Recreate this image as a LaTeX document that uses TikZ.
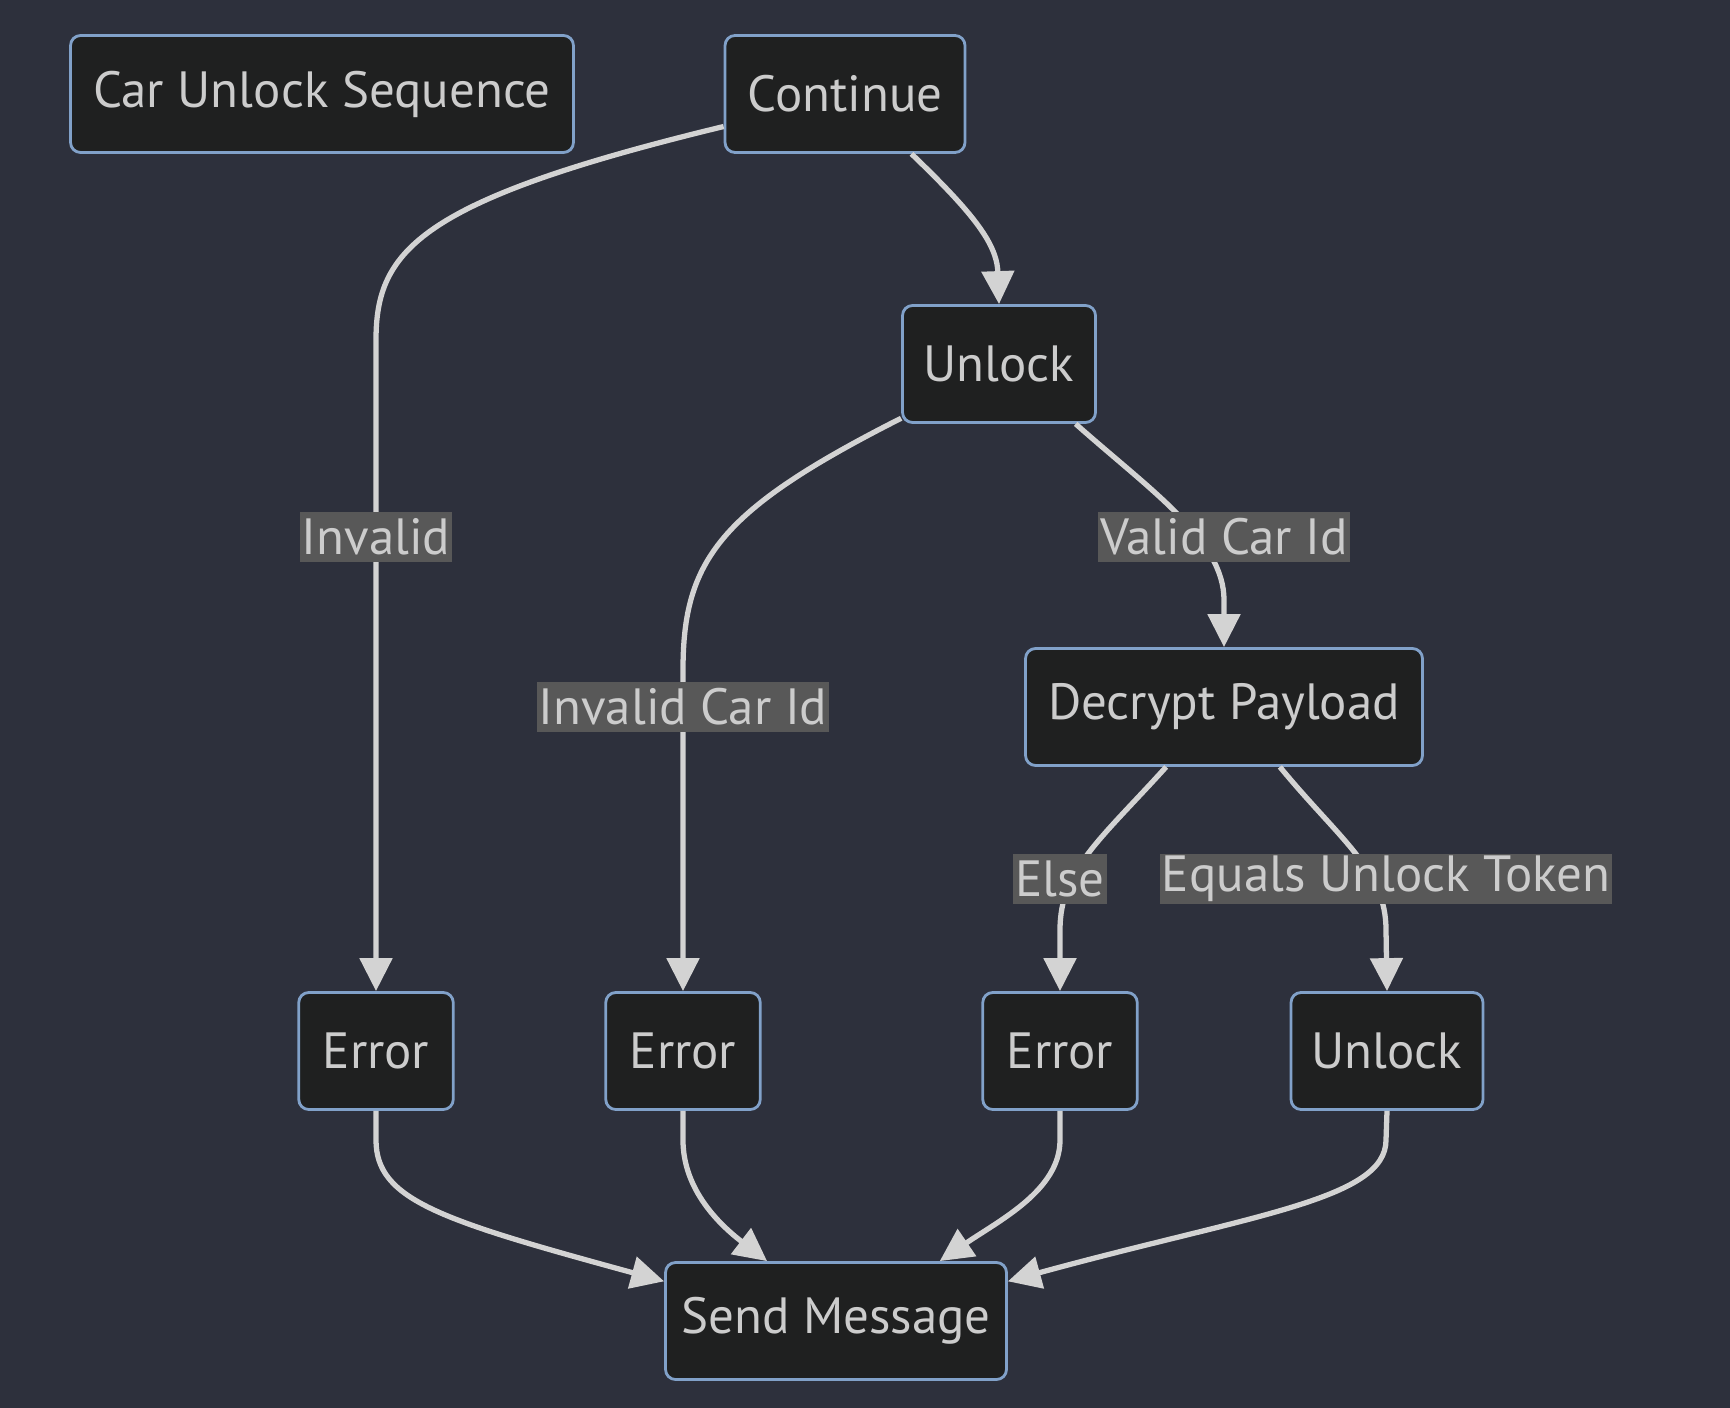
\documentclass[tikz,border=0pt]{standalone}
\usepackage{fontspec}
\setmainfont{PT Sans}
\usepackage{tikz}
\usetikzlibrary{arrows.meta, positioning, calc}
\definecolor{CUBg}{RGB}{45, 48, 60}
\definecolor{CUNode}{RGB}{31, 32, 32}
\definecolor{CUBorder}{RGB}{129, 161, 201}
\definecolor{CUText}{RGB}{204, 204, 204}
\definecolor{CULine}{RGB}{211, 211, 211}
\definecolor{CULabel}{RGB}{88, 88, 88}
\tikzset{
  flowbox/.style={
    rounded corners=0.2cm, fill=CUNode, draw=CUBorder, line width=1.6pt,
    text=CUText, minimum height=2.34cm, inner sep=0pt,
    font=\fontsize{29}{34}\selectfont
  },
  edgelabel/.style={
    fill=CULabel, text=CUText, inner xsep=1pt, inner ysep=0pt,
    minimum height=1.02cm, font=\fontsize{29}{34}\selectfont
  },
  flowline/.style={
    draw=CULine, line width=3pt, -{Triangle[length=0.66cm, width=0.64cm]}
  }
}

\begin{document}
\begin{tikzpicture}[x=0.02cm, y=-0.02cm]
    % backdrop, fixes the page size
    \path[fill=CUBg] (0,0) rectangle (1730,1408);

    % boxes
    \node[flowbox, minimum width=10.06cm] (seqTitle) at (322,94) {Car Unlock Sequence};
    \node[flowbox, minimum width=4.8cm] (cont) at (845,94) {Continue};
    \node[flowbox, minimum width=3.86cm] (unlockA) at (999,364) {Unlock};
    \node[flowbox, minimum width=7.94cm] (decrypt) at (1224,707) {Decrypt Payload};
    \node[flowbox, minimum width=3.09cm] (errA) at (376,1051) {Error};
    \node[flowbox, minimum width=3.09cm] (errB) at (683,1051) {Error};
    \node[flowbox, minimum width=3.09cm] (errC) at (1060,1051) {Error};
    \node[flowbox, minimum width=3.84cm] (unlockB) at (1387,1051) {Unlock};
    \node[flowbox, minimum width=6.82cm] (sendMsg) at (836,1321) {Send Message};

    % connectors
    \draw[flowline] (cont.195) .. controls (420,200) and (376,250) .. (376,340) -- (errA.north);
    \draw[flowline] (cont.-42) .. controls (975,215) and (998,245) .. (998,275) -- (unlockA.north);
    \draw[flowline] (unlockA.209) .. controls (720,510) and (683,560) .. (683,670) -- (errB.north);
    \draw[flowline] (unlockA.-38) .. controls (1150,490) and (1224,540) .. (1224,600) -- (decrypt.north);
    \draw[flowline] (decrypt.-134) .. controls (1100,840) and (1060,870) .. (1060,930) -- (errC.north);
    \draw[flowline] (decrypt.-47) .. controls (1340,840) and (1386,870) .. (1386,930) -- (unlockB.north);
    \draw[flowline] (errA.south) -- (376,1140) .. controls (376,1200) and (440,1220) .. (sendMsg.167);
    \draw[flowline] (errB.south) -- (683,1140) .. controls (683,1190) and (720,1225) .. (sendMsg.139);
    \draw[flowline] (errC.south) -- (1060,1140) .. controls (1060,1190) and (1000,1220) .. (sendMsg.30);
    \draw[flowline] (unlockB.south) -- (1386,1140) .. controls (1386,1200) and (1250,1215) .. (sendMsg.13);

    % edge texts
    \node[edgelabel] (lblInvalid) at (376,537) {Invalid};
    \node[edgelabel] (lblInvalidId) at (683,707) {Invalid Car Id};
    \node[edgelabel] (lblValidId) at (1224,537) {Valid Car Id};
    \node[edgelabel] (lblElse) at (1060,879) {Else};
    \node[edgelabel] (lblToken) at (1386,879) {Equals Unlock Token};
\end{tikzpicture}
\end{document}
